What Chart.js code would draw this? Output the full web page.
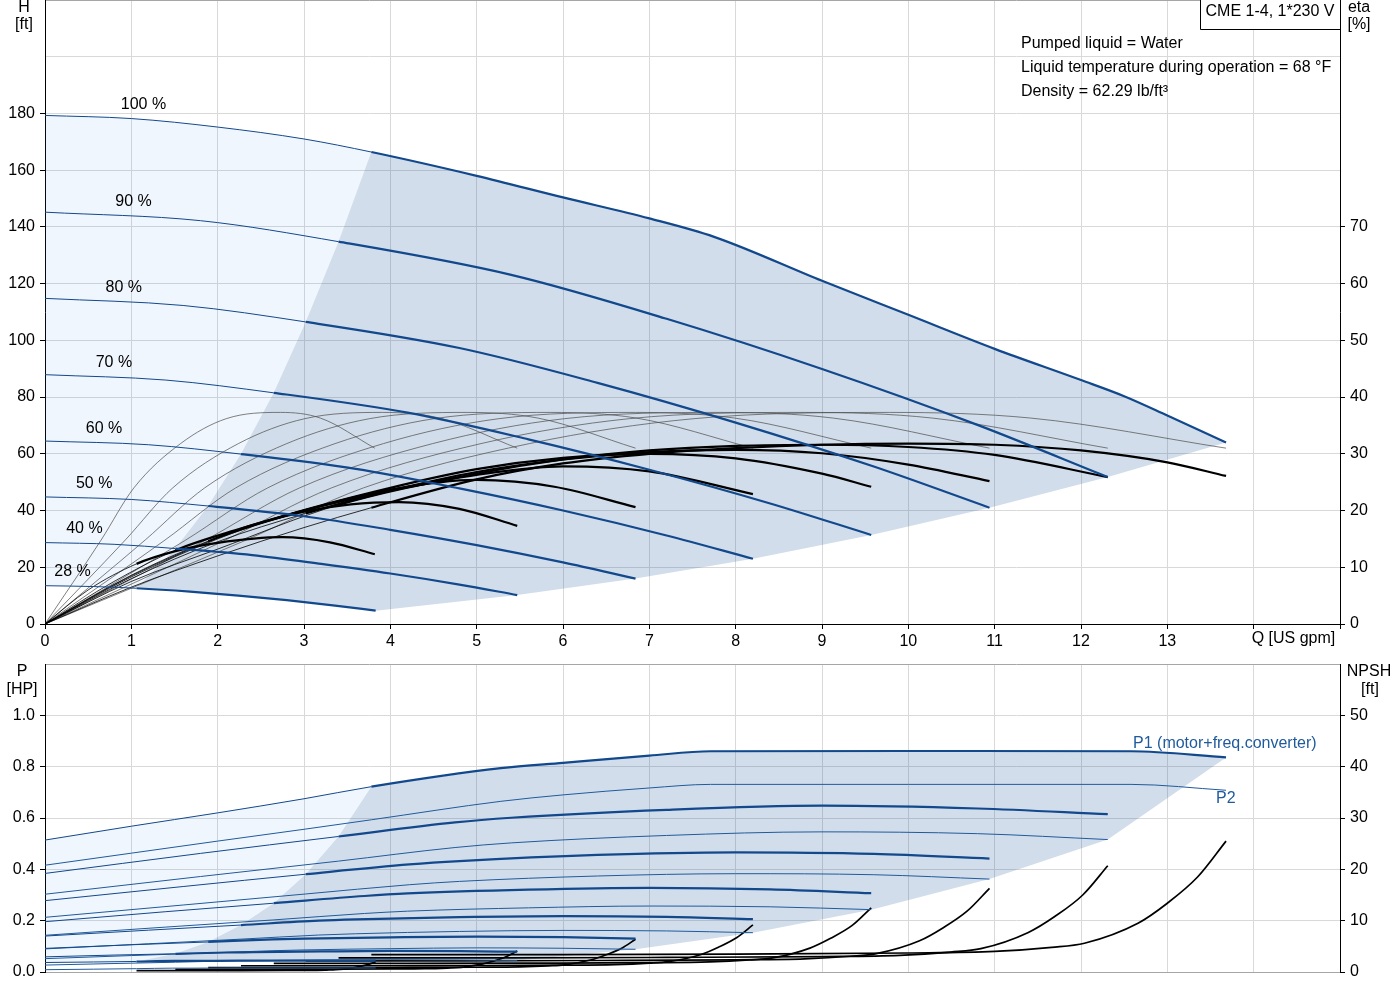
<!DOCTYPE html>
<html>
<head>
<meta charset="utf-8">
<script src="https://cdn.jsdelivr.net/npm/chart.js@4.4.1/dist/chart.umd.min.js"></script>
<style>
  html, body { margin: 0; padding: 0; background: #fff; }
  #wrap { position: relative; width: 1400px; height: 1000px; overflow: hidden; }
  #chart-top { position: absolute; left: 0; top: 0; }
  #chart-bottom { position: absolute; left: 0; top: 652px; }
</style>
</head>
<body>
<div id="wrap">
  <canvas id="chart-top" width="1400" height="652"></canvas>
  <canvas id="chart-bottom" width="1400" height="348"></canvas>
</div>
<script>
/* CME 1-4 pump curves: head / efficiency on top, power / NPSH below */

// speed steps, order: 100 %, 90 %, ... 28 %
const speedPct = [100, 90, 80, 70, 60, 50, 40, 28];
const speedLabels = ["100 %", "90 %", "80 %", "70 %", "60 %", "50 %", "40 %", "28 %"];
// flow where each curve enters the recommended range (thin -> thick)
const minFlow = [3.78, 3.40, 3.02, 2.65, 2.27, 1.89, 1.51, 1.06];

// head H [ft] vs Q [US gpm]
const headFlow = [
  [0, 1, 2, 3, 3.78, 5, 6, 7, 7.75, 9, 10, 11, 12, 12.5, 13, 13.68],
  [0, 1.8, 3.40, 5.4, 7.2, 9, 10.8, 12.31],
  [0, 1.6, 3.02, 4.8, 6.4, 8, 9.6, 10.94],
  [0, 1.4, 2.65, 4.2, 5.6, 7, 8.4, 9.57],
  [0, 1.2, 2.27, 3.6, 4.8, 6, 7.2, 8.2],
  [0, 1, 1.89, 3, 4, 5, 6, 6.84],
  [0, 0.8, 1.51, 2.4, 3.2, 4, 4.8, 5.47],
  [0, 0.56, 1.06, 1.68, 2.24, 2.8, 3.36, 3.83],
];
const headValue = [
  [179.3, 178.2, 175.2, 171, 166.4, 158, 150.4, 143, 136.5, 121, 109, 97, 86, 80.3, 73.5, 64],
  [145.2, 142.2, 134.8, 123.1, 107.6, 89.9, 70.2, 51.8],
  [114.8, 112.3, 106.5, 97.3, 85.0, 71.0, 55.5, 41.0],
  [87.9, 86.0, 81.5, 74.5, 65.1, 54.4, 42.5, 31.4],
  [64.5, 63.2, 59.9, 54.7, 47.8, 40.0, 31.2, 23.0],
  [44.8, 43.9, 41.6, 38.0, 33.2, 27.8, 21.7, 16.0],
  [28.7, 28.1, 26.6, 24.3, 21.2, 17.8, 13.9, 10.2],
  [13.5, 13.2, 12.6, 11.4, 10.0, 8.4, 6.5, 4.7],
];

// pump efficiency [%] (thin lines)
const etaPumpFlow = [
  [0, 2.33, 3.69, 5.61, 7.52, 9.78, 11.42, 13.68],
  [0, 2.09, 3.32, 5.05, 6.77, 8.80, 10.28, 12.31],
  [0, 1.86, 2.95, 4.49, 6.02, 7.82, 9.13, 10.94],
  [0, 1.63, 2.58, 3.92, 5.26, 6.84, 7.99, 9.57],
  [0, 1.39, 2.21, 3.36, 4.51, 5.86, 6.85, 8.2],
  [0, 1.16, 1.85, 2.80, 3.76, 4.89, 5.71, 6.84],
  [0, 0.93, 1.48, 2.24, 3.01, 3.91, 4.57, 5.47],
  [0, 0.65, 1.03, 1.57, 2.10, 2.73, 3.19, 3.82],
];
const etaPumpValue = [
  [0, 14.8, 24, 31.8, 36.2, 37.3, 36.3, 31.0],
  [0, 14.8, 24, 31.8, 36.2, 37.3, 36.3, 31.0],
  [0, 14.8, 24, 31.8, 36.2, 37.3, 36.3, 31.0],
  [0, 14.8, 24, 31.8, 36.2, 37.3, 36.3, 31.0],
  [0, 14.8, 24, 31.8, 36.2, 37.3, 36.3, 31.0],
  [0, 14.8, 24, 31.8, 36.2, 37.3, 36.3, 31.0],
  [0, 14.8, 24, 31.8, 36.2, 37.3, 36.3, 31.0],
  [0, 14.8, 24, 31.8, 36.2, 37.3, 36.3, 31.0],
];

// total efficiency incl. motor + converter [%]
const etaTotalFlow = [
  [0, 1, 2, 3, 3.78, 5, 6, 7, 8, 9, 10, 11, 12, 13, 13.68],
  [0, 1, 2, 3.4, 5, 6, 7, 8, 9, 10, 11, 12.31],
  [0, 1, 2, 3.02, 4, 5, 6, 7, 8, 9, 10, 10.94],
  [0, 1, 2, 2.65, 4, 5, 6, 7, 8, 9, 9.57],
  [0, 1, 2, 2.27, 3, 4, 5, 6, 7, 8.2],
  [0, 1, 1.89, 3, 4, 5, 5.9, 6.84],
  [0, 0.8, 1.51, 2.2, 3, 3.54, 4.1, 4.8, 5.47],
  [0, 0.5, 1.06, 1.5, 2.0, 2.75, 3.3, 3.82],
];
const etaTotalValue = [
  [0, 6.5, 12, 17, 20.5, 25.5, 28.3, 30, 31, 31.6, 31.8, 31.6, 30.6, 28.5, 26.1],
  [0, 7.5, 13.2, 21, 26.5, 29, 30.6, 31.4, 31.6, 31.2, 29.8, 25.9],
  [0, 8, 14.5, 19.5, 23.5, 26.8, 29, 30.3, 30.7, 30.1, 28.1, 25.2],
  [0, 8.3, 15, 18.5, 24, 27.3, 29.3, 30, 29.2, 26.5, 24.2],
  [0, 8.5, 15.2, 16.8, 20, 23.5, 26.3, 27.8, 26.9, 22.9],
  [0, 8.6, 14.6, 20, 23.7, 25.4, 24.2, 20.6],
  [0, 7.5, 13, 16.5, 19.8, 21.1, 21.5, 20.3, 17.3],
  [0, 6, 10.6, 12.8, 14.3, 15.3, 14.4, 12.3],
];

// power [HP]: P1 (motor + freq. converter) and P2, same flow points
const powerFlow = [
  [0, 1, 2, 3, 3.78, 5.28, 6, 7, 7.71, 10, 12.58, 13.68],
  [0, 1.8, 3.4, 4.75, 5.4, 7.2, 9, 10.8, 12.31],
  [0, 1.6, 3.02, 4.22, 4.8, 6.4, 8, 9.6, 10.94],
  [0, 1.4, 2.65, 3.7, 4.2, 5.6, 7, 8.4, 9.57],
  [0, 1.2, 2.27, 3.17, 3.6, 4.8, 6, 7.2, 8.2],
  [0, 1, 1.89, 2.64, 3, 4, 5, 6, 6.84],
  [0, 0.8, 1.51, 2.11, 2.4, 3.2, 4, 4.8, 5.47],
  [0, 0.56, 1.06, 1.48, 1.68, 2.24, 2.8, 3.36, 3.83],
];
const powerP1 = [
  [0.514, 0.568, 0.62, 0.675, 0.722, 0.794, 0.815, 0.843, 0.86, 0.861, 0.86, 0.836],
  [0.384, 0.462, 0.528, 0.583, 0.601, 0.632, 0.648, 0.637, 0.615],
  [0.278, 0.333, 0.381, 0.419, 0.432, 0.456, 0.466, 0.460, 0.442],
  [0.196, 0.235, 0.268, 0.296, 0.306, 0.321, 0.328, 0.322, 0.307],
  [0.140, 0.163, 0.183, 0.200, 0.205, 0.214, 0.218, 0.215, 0.206],
  [0.092, 0.106, 0.117, 0.127, 0.130, 0.135, 0.138, 0.136, 0.130],
  [0.059, 0.066, 0.071, 0.076, 0.077, 0.080, 0.082, 0.081, 0.079],
  [0.037, 0.039, 0.041, 0.043, 0.043, 0.044, 0.044, 0.044, 0.044],
];
const powerP2 = [
  [0.416, 0.463, 0.51, 0.556, 0.593, 0.665, 0.69, 0.717, 0.731, 0.731, 0.731, 0.708],
  [0.303, 0.372, 0.432, 0.485, 0.503, 0.532, 0.546, 0.539, 0.516],
  [0.213, 0.261, 0.304, 0.340, 0.353, 0.374, 0.383, 0.379, 0.362],
  [0.143, 0.175, 0.203, 0.228, 0.237, 0.250, 0.257, 0.254, 0.243],
  [0.090, 0.110, 0.128, 0.144, 0.149, 0.158, 0.162, 0.160, 0.153],
  [0.052, 0.064, 0.074, 0.083, 0.086, 0.091, 0.094, 0.0925, 0.0885],
  [0.027, 0.033, 0.038, 0.043, 0.044, 0.047, 0.048, 0.047, 0.045],
  [0.009, 0.011, 0.013, 0.015, 0.015, 0.016, 0.016, 0.016, 0.016],
];

// NPSH [ft]
const npshFlow = [
  [3.78, 6, 8, 10, 11, 11.66, 12.04, 12.66, 13.0, 13.35, 13.68],
  [3.4, 5.4, 7.2, 9, 9.9, 10.49, 10.84, 11.39, 11.7, 12.02, 12.31],
  [3.02, 4.8, 6.4, 8, 8.8, 9.33, 9.63, 10.13, 10.4, 10.68, 10.94],
  [2.65, 4.2, 5.6, 7, 7.7, 8.16, 8.43, 8.86, 9.1, 9.35, 9.57],
  [2.27, 3.6, 4.8, 6, 6.6, 7.0, 7.22, 7.6, 7.8, 8.01, 8.2],
  [1.89, 3, 4, 5, 5.5, 5.83, 6.02, 6.33, 6.5, 6.68, 6.84],
  [1.51, 2.4, 3.2, 4, 4.4, 4.66, 4.82, 5.06, 5.2, 5.34, 5.47],
  [1.06, 1.68, 2.24, 2.8, 3.08, 3.26, 3.37, 3.54, 3.64, 3.74, 3.83],
];
const npshValue = [
  [3.4, 3.4, 3.5, 3.7, 4.0, 4.8, 5.6, 9.5, 13.4, 18.5, 25.5],
  [2.75, 2.75, 2.84, 3.0, 3.24, 3.89, 4.54, 7.7, 10.85, 15.0, 20.7],
  [2.18, 2.18, 2.24, 2.37, 2.56, 3.07, 3.58, 6.08, 8.58, 11.84, 16.3],
  [1.67, 1.67, 1.72, 1.81, 1.96, 2.35, 2.74, 4.66, 6.57, 9.07, 12.5],
  [1.22, 1.22, 1.26, 1.33, 1.44, 1.73, 2.02, 3.42, 4.82, 6.66, 9.18],
  [0.85, 0.85, 0.88, 0.93, 1.0, 1.2, 1.4, 2.38, 3.35, 4.63, 6.38],
  [0.54, 0.54, 0.56, 0.59, 0.64, 0.77, 0.9, 1.52, 2.14, 2.96, 4.08],
  [0.27, 0.27, 0.27, 0.29, 0.31, 0.38, 0.44, 0.74, 1.05, 1.45, 2.0],
];

const headTicks = [0, 20, 40, 60, 80, 100, 120, 140, 160, 180];
const etaTicks = [0, 10, 20, 30, 40, 50, 60, 70];
const powerTicks = [0, 0.2, 0.4, 0.6, 0.8, 1.0];
const npshTicks = [0, 10, 20, 30, 40, 50];

const FONT = '"Liberation Sans", Arial, sans-serif';
const BLUE = "#12488c";
const LIGHT_FILL = "rgba(40,130,230,0.07)";
const DARK_FILL = "rgba(25,85,150,0.2)";
const GRID = "#d9d9d9";
const FRAME = "#a6a6a6";

Chart.defaults.font.family = FONT;
Chart.defaults.font.size = 16;
Chart.defaults.color = "#000";

const pts = (xs, ys) => xs.map((x, i) => ({ x, y: ys[i] }));

function valueAt(xs, ys, q) {
  for (let i = 1; i < xs.length; i++) {
    if (q <= xs[i]) {
      const t = (q - xs[i - 1]) / (xs[i] - xs[i - 1]);
      return ys[i - 1] + t * (ys[i] - ys[i - 1]);
    }
  }
  return ys[ys.length - 1];
}

// point where curve i crosses into the dark range
const entryPoint = (flows, values, i) => ({ x: minFlow[i], y: values[i][flows[i].indexOf(minFlow[i])] });

// range outlines built from the curves themselves
function rangeOutlines(flows, values, lowEnds) {
  const last = speedPct.length - 1;
  const edge = [];
  for (let i = last; i >= 0; i--) edge.push(entryPoint(flows, values, i));
  const topFull = pts(flows[0], values[0]);
  const lowFull = pts(flows[last], values[last]);
  const lightUpper = topFull.filter((p) => p.x <= minFlow[0]);
  const lightLower = lowFull.filter((p) => p.x <= minFlow[last]).concat(edge.slice(1));
  const darkUpper = edge.concat(topFull.filter((p) => p.x > minFlow[0]));
  const darkLower = lowFull.filter((p) => p.x >= minFlow[last]).concat(lowEnds);
  return { lightUpper, lightLower, darkUpper, darkLower };
}

function fillPair(upper, lower, color, yAxisID) {
  const hidden = { borderColor: "rgba(0,0,0,0)", borderWidth: 1, pointRadius: 0, tension: 0, yAxisID };
  return [
    { ...hidden, data: upper, fill: "+1", backgroundColor: color },
    { ...hidden, data: lower, fill: false },
  ];
}

function rangeCurve(data, i, color, thin, thick, yAxisID) {
  return {
    data, yAxisID, borderColor: color, borderWidth: thin, pointRadius: 0,
    cubicInterpolationMode: "monotone", fill: false,
    segment: { borderWidth: (c) => (c.p0.parsed.x >= minFlow[i] - 1e-6 ? thick : thin) },
  };
}

// y axes: fixed width, no extra padding for half tick labels
const fixY = (w) => (s) => { s.width = w; s.paddingTop = 0; s.paddingBottom = 0; };
const noTick = "rgba(0,0,0,0)";

/* ---------- top: head + efficiency ---------- */
const topDatasets = [];
speedPct.forEach((s, i) => topDatasets.push(rangeCurve(pts(headFlow[i], headValue[i]), i, BLUE, 1, 2.2, "y")));
speedPct.forEach((s, i) => topDatasets.push(rangeCurve(pts(etaTotalFlow[i], etaTotalValue[i]), i, "#000", 0.8, 2.2, "eta")));
speedPct.forEach((s, i) => topDatasets.push({
  data: pts(etaPumpFlow[i], etaPumpValue[i]), yAxisID: "eta", borderColor: "#4a4a4a",
  borderWidth: 0.7, pointRadius: 0, cubicInterpolationMode: "monotone", fill: false,
}));
const headEnds = [];
for (let i = speedPct.length - 2; i >= 0; i--) headEnds.push({ x: headFlow[i][headFlow[i].length - 1], y: headValue[i][headValue[i].length - 1] });
const headRange = rangeOutlines(headFlow, headValue, headEnds);
topDatasets.push(...fillPair(headRange.lightUpper, headRange.lightLower, LIGHT_FILL, "y"));
topDatasets.push(...fillPair(headRange.darkUpper, headRange.darkLower, DARK_FILL, "y"));

const topText = {
  id: "topText",
  afterDraw(chart) {
    const { ctx, scales: { x, y } } = chart;
    ctx.save();
    ctx.font = "16px " + FONT;
    ctx.fillStyle = "#000";
    ctx.textBaseline = "middle";
    ctx.textAlign = "center";
    speedLabels.forEach((lab, i) => {
      const q = 1.14 * speedPct[i] / 100;
      const h = valueAt(headFlow[i], headValue[i], q);
      ctx.fillText(lab, x.getPixelForValue(q), y.getPixelForValue(h) - 15);
    });
    ctx.fillText("H", 24, 8);
    ctx.fillText("[ft]", 24, 25);
    ctx.fillText("eta", 1359, 8);
    ctx.fillText("[%]", 1359, 25);
    ctx.textAlign = "left";
    ctx.fillText("Q [US gpm]", x.getPixelForValue(14) - 2, 639);
    // product box
    const right = chart.chartArea.right;
    ctx.fillStyle = "#fff";
    ctx.fillRect(1200, 0, right - 1200, 29);
    ctx.strokeStyle = "#000";
    ctx.lineWidth = 1;
    ctx.beginPath();
    ctx.moveTo(1200.5, 0); ctx.lineTo(1200.5, 29.5); ctx.lineTo(right, 29.5);
    ctx.stroke();
    ctx.fillStyle = "#000";
    ctx.textAlign = "center";
    ctx.fillText("CME 1-4, 1*230 V", (1200 + right) / 2, 12);
    ctx.textAlign = "left";
    ctx.fillText("Pumped liquid = Water", 1021, 44);
    ctx.fillText("Liquid temperature during operation = 68 °F", 1021, 68);
    ctx.fillText("Density = 62.29 lb/ft³", 1021, 92);
    ctx.restore();
  },
};

new Chart(document.getElementById("chart-top"), {
  type: "scatter",
  data: { datasets: topDatasets },
  options: {
    responsive: false, animation: false, events: [],
    layout: { padding: { top: 0, left: 0, right: 0, bottom: 0 } },
    plugins: { legend: { display: false }, tooltip: { enabled: false }, filler: { drawTime: "beforeDatasetsDraw" } },
    datasets: { scatter: { showLine: true } },
    scales: {
      x: {
        type: "linear", min: 0, max: 15,
        afterFit: (s) => { s.height = 28; },
        ticks: { stepSize: 1, autoSkip: false, maxRotation: 0, padding: 3, callback: (v) => (v <= 13 ? String(v) : "") },
        grid: { color: GRID, tickColor: "#000", tickLength: 5 },
        border: { color: "#000" },
      },
      y: {
        position: "left", min: 0, max: 220,
        afterFit: fixY(45),
        afterBuildTicks: (s) => { s.ticks = headTicks.concat([200, 220]).map((v) => ({ value: v })); },
        ticks: { padding: 5, callback: (v) => (headTicks.includes(v) ? String(v) : "") },
        grid: {
          color: (c) => (c.tick && c.tick.value === 220 ? FRAME : GRID),
          tickColor: (c) => (c.tick && headTicks.includes(c.tick.value) ? "#000" : noTick),
          tickLength: 5,
        },
        border: { color: "#000" },
      },
      eta: {
        position: "right", min: 0, max: 110,
        afterFit: fixY(60),
        afterBuildTicks: (s) => { s.ticks = etaTicks.map((v) => ({ value: v })); },
        ticks: { padding: 5 },
        grid: { drawOnChartArea: false, tickColor: "#000", tickLength: 5 },
        border: { color: "#000" },
      },
    },
  },
  plugins: [topText],
});

/* ---------- bottom: power + NPSH ---------- */
const bottomDatasets = [];
speedPct.forEach((s, i) => bottomDatasets.push(rangeCurve(pts(powerFlow[i], powerP1[i]), i, BLUE, 1, 2.2, "y")));
speedPct.forEach((s, i) => bottomDatasets.push({
  data: pts(powerFlow[i], powerP2[i]), yAxisID: "y", borderColor: "#1f5a9c",
  borderWidth: 1, pointRadius: 0, cubicInterpolationMode: "monotone", fill: false,
}));
speedPct.forEach((s, i) => bottomDatasets.push({
  data: pts(npshFlow[i], npshValue[i]), yAxisID: "npsh", borderColor: "#000",
  borderWidth: 1.7, pointRadius: 0, cubicInterpolationMode: "monotone", fill: false,
}));
const powerEnds = [];
for (let i = speedPct.length - 2; i >= 1; i--) powerEnds.push({ x: powerFlow[i][powerFlow[i].length - 1], y: powerP2[i][powerP2[i].length - 1] });
powerEnds.push({ x: powerFlow[0][powerFlow[0].length - 1], y: powerP1[0][powerP1[0].length - 1] });
const powerRange = rangeOutlines(powerFlow, powerP1, powerEnds);
bottomDatasets.push(...fillPair(powerRange.lightUpper, powerRange.lightLower, LIGHT_FILL, "y"));
bottomDatasets.push(...fillPair(powerRange.darkUpper, powerRange.darkLower, DARK_FILL, "y"));

const bottomText = {
  id: "bottomText",
  afterDraw(chart) {
    const { ctx, scales: { x, y } } = chart;
    ctx.save();
    ctx.font = "16px " + FONT;
    ctx.fillStyle = "#000";
    ctx.textBaseline = "middle";
    ctx.textAlign = "center";
    ctx.fillText("P", 22, 20);
    ctx.fillText("[HP]", 22, 38);
    ctx.fillText("NPSH", 1369, 20);
    ctx.fillText("[ft]", 1370, 38);
    ctx.textAlign = "left";
    ctx.fillStyle = "#1f5a9c";
    const n = powerFlow[0].length - 1;
    const ex = x.getPixelForValue(powerFlow[0][n]);
    ctx.fillText("P1 (motor+freq.converter)", ex - 93, y.getPixelForValue(powerP1[0][n]) - 14);
    ctx.fillText("P2", ex - 10, y.getPixelForValue(powerP2[0][n]) + 8);
    ctx.restore();
  },
};

new Chart(document.getElementById("chart-bottom"), {
  type: "scatter",
  data: { datasets: bottomDatasets },
  options: {
    responsive: false, animation: false, events: [],
    layout: { padding: { top: 12, left: 0, right: 0, bottom: 0 } },
    plugins: { legend: { display: false }, tooltip: { enabled: false }, filler: { drawTime: "beforeDatasetsDraw" } },
    datasets: { scatter: { showLine: true } },
    scales: {
      x: {
        type: "linear", min: 0, max: 15,
        afterFit: (s) => { s.height = 28; },
        ticks: { stepSize: 1, display: false },
        grid: { color: GRID, drawTicks: false },
        border: { color: FRAME },
      },
      y: {
        position: "left", min: 0, max: 1.2,
        afterFit: fixY(45),
        afterBuildTicks: (s) => { s.ticks = powerTicks.concat([1.2]).map((v) => ({ value: v })); },
        ticks: { padding: 5, callback: (v) => (v <= 1.0001 ? v.toFixed(1) : "") },
        grid: {
          color: (c) => (c.tick && c.tick.value > 1.1 ? FRAME : GRID),
          tickColor: (c) => (c.tick && c.tick.value <= 1.0001 ? "#000" : noTick),
          tickLength: 5,
        },
        border: { color: "#000" },
      },
      npsh: {
        position: "right", min: 0, max: 60,
        afterFit: fixY(60),
        afterBuildTicks: (s) => { s.ticks = npshTicks.map((v) => ({ value: v })); },
        ticks: { padding: 5 },
        grid: { drawOnChartArea: false, tickColor: "#000", tickLength: 5 },
        border: { color: "#000" },
      },
    },
  },
  plugins: [bottomText],
});
</script>
</body>
</html>
